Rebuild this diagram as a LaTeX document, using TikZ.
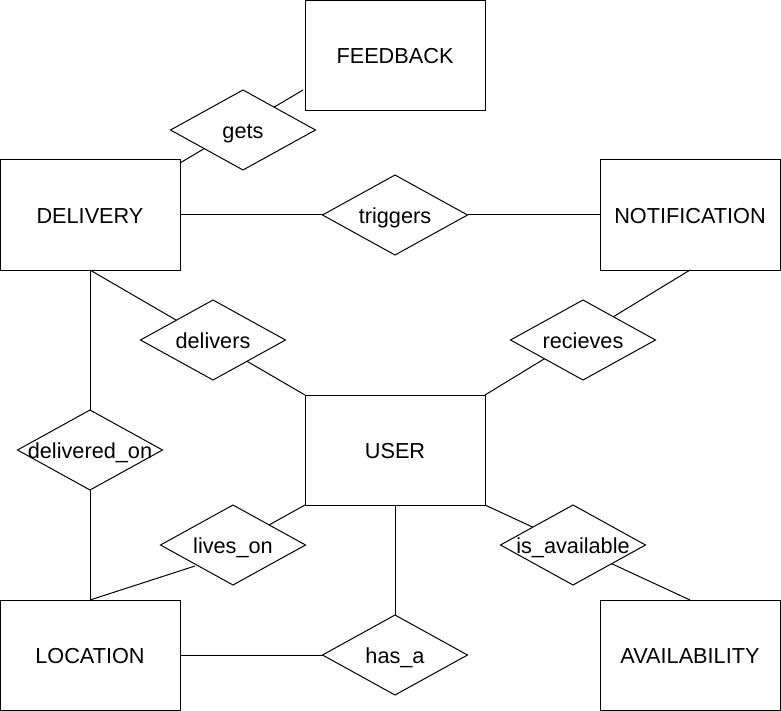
\documentclass[tikz,border=0pt]{standalone}
\usepackage{fontspec}
\setmainfont{Liberation Sans}
\usetikzlibrary{shapes.geometric,backgrounds,calc}
\begin{document}
\begin{tikzpicture}[x=1pt,y=-1pt,
  txt/.style={font=\fontsize{21.7}{26}\selectfont, text height=16.6pt, text depth=0pt, inner sep=0pt},
  ent/.style={txt, draw, line width=1pt, minimum width=180pt, minimum height=110pt, outer sep=0pt},
  rel/.style={diamond, draw, fill=white, line width=1pt, minimum width=145pt, minimum height=80pt, inner sep=0pt, outer sep=0pt},
  rlab/.style={txt},
  conn/.style={line width=1pt}]
\useasboundingbox (0,0) rectangle (781,711);
% entities
\node[ent] (feedback) at (395,55.5) {FEEDBACK};
\node[ent] (delivery) at (90,215) {DELIVERY};
\node[ent] (notification) at (690,215) {NOTIFICATION};
\node[ent] (user) at (395,450) {USER};
\node[ent] (location) at (90,655) {LOCATION};
\node[ent] (availability) at (690,655) {AVAILABILITY};
% relationships
\node[rel, label={[rlab]center:gets}] (gets) at (243,130) {};
\node[rel, label={[rlab]center:triggers}] (triggers) at (395,215) {};
\node[rel, label={[rlab]center:delivers}] (delivers) at (213,340) {};
\node[rel, label={[rlab]center:recieves}] (recieves) at (583,340) {};
\node[rel, label={[rlab]center:delivered\_on}] (deliveredon) at (90,450) {};
\node[rel, label={[rlab]center:lives\_on}] (liveson) at (233,545) {};
\node[rel, label={[rlab]center:is\_available}] (isavailable) at (573,545) {};
\node[rel, label={[rlab]center:has\_a}] (hasa) at (395,655) {};
% connectors
\begin{scope}[on background layer]
\fill[white] (0,0) rectangle (781,711);
\draw[conn] ($(delivery.north east)+(0,3)$) -- ($(feedback.west)+(-2,34.5)$);
\draw[conn] (delivery.east) -- (triggers.west);
\draw[conn] (triggers.east) -- (notification.west);
\draw[conn] (delivery.south) -- (user.north west);
\draw[conn] (notification.south) -- (user.north east);
\draw[conn] (delivery.south) -- (deliveredon.north);
\draw[conn] (deliveredon.south) -- (location.north);
\draw[conn] (user.south west) -- (liveson.center);
\draw[conn] (location.north) -- ($(liveson.center)+(-38,21)$);
\draw[conn] (user.south) -- (hasa.north);
\draw[conn] (location.east) -- (hasa.west);
\draw[conn] (user.south east) -- (availability.north);
\end{scope}
\end{tikzpicture}
\end{document}
